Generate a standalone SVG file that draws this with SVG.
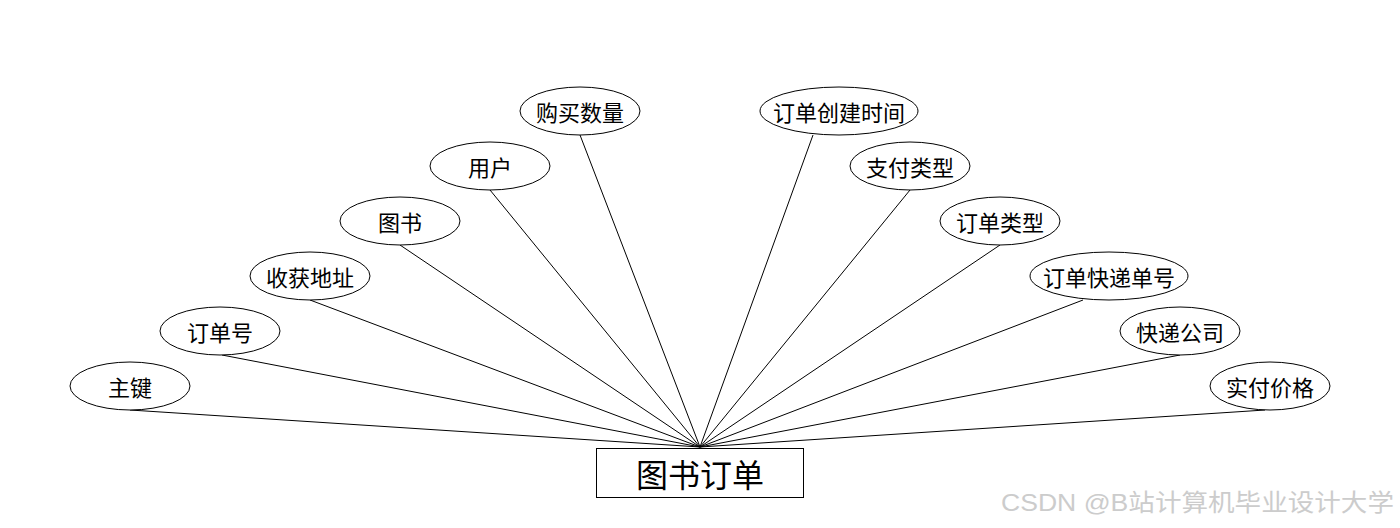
<svg xmlns="http://www.w3.org/2000/svg" width="1400" height="528" viewBox="0 0 1400 528">
<style>
.e{fill:#fff;stroke:#000;stroke-width:1}
.t{font-family:"Noto Sans CJK SC","Liberation Sans",sans-serif;font-size:22px;fill:#000;text-anchor:middle;dominant-baseline:central}
.c line{stroke:#000;stroke-width:1}
</style>
<rect width="1400" height="528" fill="#fff"/>
<g id="connectors" class="c">
<line x1="130" y1="410" x2="700" y2="447"/>
<line x1="222" y1="355" x2="700" y2="447"/>
<line x1="310" y1="300" x2="700" y2="447"/>
<line x1="400" y1="245" x2="700" y2="447"/>
<line x1="490" y1="190" x2="700" y2="447"/>
<line x1="580" y1="135" x2="700" y2="447"/>
<line x1="813" y1="135" x2="700" y2="447"/>
<line x1="910" y1="190" x2="700" y2="447"/>
<line x1="1000" y1="245" x2="700" y2="447"/>
<line x1="1083" y1="300" x2="700" y2="447"/>
<line x1="1180" y1="355" x2="700" y2="447"/>
<line x1="1265" y1="410" x2="700" y2="447"/>
</g>
<g id="n0"><ellipse class="e" cx="130" cy="386" rx="60" ry="24"/><text class="t" x="130" y="386">主键</text></g>
<g id="n1"><ellipse class="e" cx="220" cy="331" rx="60" ry="24"/><text class="t" x="220" y="331">订单号</text></g>
<g id="n2"><ellipse class="e" cx="310" cy="276" rx="60" ry="24"/><text class="t" x="310" y="276">收获地址</text></g>
<g id="n3"><ellipse class="e" cx="400" cy="221" rx="60" ry="24"/><text class="t" x="400" y="221">图书</text></g>
<g id="n4"><ellipse class="e" cx="490" cy="166" rx="60" ry="24"/><text class="t" x="490" y="166">用户</text></g>
<g id="n5"><ellipse class="e" cx="580" cy="111" rx="60" ry="24"/><text class="t" x="580" y="111">购买数量</text></g>
<g id="n6"><ellipse class="e" cx="839" cy="111" rx="79" ry="24"/><text class="t" x="839" y="111">订单创建时间</text></g>
<g id="n7"><ellipse class="e" cx="910" cy="166" rx="60" ry="24"/><text class="t" x="910" y="166">支付类型</text></g>
<g id="n8"><ellipse class="e" cx="1000" cy="221" rx="60" ry="24"/><text class="t" x="1000" y="221">订单类型</text></g>
<g id="n9"><ellipse class="e" cx="1109" cy="276" rx="79" ry="24"/><text class="t" x="1109" y="276">订单快递单号</text></g>
<g id="n10"><ellipse class="e" cx="1180" cy="331" rx="60" ry="24"/><text class="t" x="1180" y="331">快递公司</text></g>
<g id="n11"><ellipse class="e" cx="1270" cy="386" rx="60" ry="24"/><text class="t" x="1270" y="386">实付价格</text></g>
<g id="center"><rect x="596.500" y="448.500" width="207" height="49" fill="#fff" stroke="#000" stroke-width="1"/><text class="t" x="700" y="473" style="font-size:32px">图书订单</text></g>
<text x="1001" y="511" textLength="393" lengthAdjust="spacingAndGlyphs" style="font-family:'Liberation Sans','Noto Sans CJK SC',sans-serif;font-size:24px;fill:#cccccc">CSDN @B站计算机毕业设计大学</text>
</svg>
